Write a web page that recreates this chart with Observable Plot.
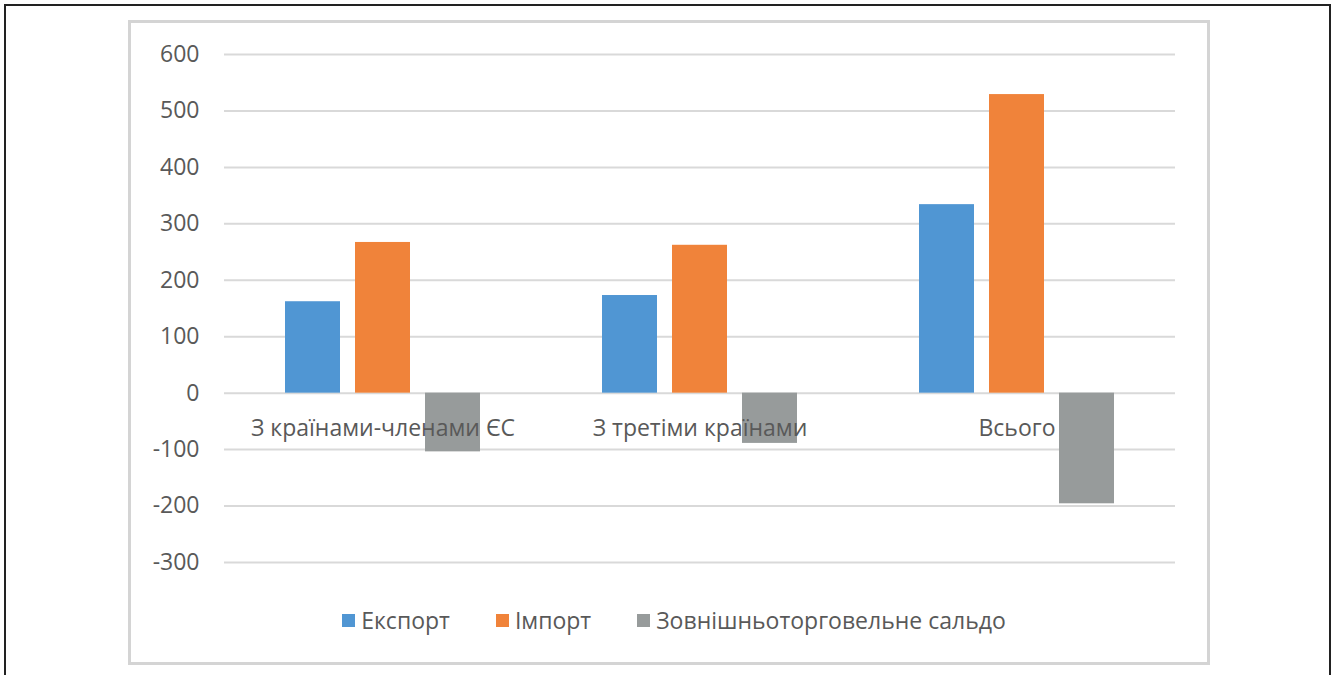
<!DOCTYPE html>
<html><head><meta charset="utf-8">
<script src="https://cdn.jsdelivr.net/npm/d3@7"></script>
<script src="https://cdn.jsdelivr.net/npm/@observablehq/plot@0.6"></script>
<style>
body{margin:0;background:#fff;font-family:"Open Sans",sans-serif;}
#outer{position:absolute;left:4px;top:4px;width:1323px;height:720px;border:2px solid #222;}
#box{position:absolute;left:128px;top:20px;width:1076px;height:639px;border:3px solid #d4d4d4;}
#chart{position:absolute;left:131px;top:23px;}
#legend{position:absolute;left:131px;width:1076px;top:604px;display:flex;justify-content:center;gap:46px;font-size:23px;color:#595959;padding-left:10px;box-sizing:border-box;}
#legend .it{display:flex;align-items:center;gap:6px;}
#legend .sw{width:13px;height:13px;display:inline-block;}
</style></head>
<body>
<div id="outer"></div>
<div id="box"></div>
<div id="chart"></div>
<div id="legend"></div>
<script>
const categories = ["З країнами-членами ЄС", "З третіми країнами", "Всього"];
const series = ["Експорт", "Імпорт", "Зовнішньоторговельне сальдо"];
const colors = ["#5096d3", "#f0833a", "#979b9b"];
const exportValues = [162, 173, 334];
const importValues = [267, 262, 529];
const balanceValues = [-104, -89, -196];
const yTicks = [-300, -200, -100, 0, 100, 200, 300, 400, 500, 600];

const seriesValues = [exportValues, importValues, balanceValues];
const data = [];
categories.forEach((c, i) => series.forEach((s, j) => data.push({category: c, series: s, value: seriesValues[j][i]})));

const chart = Plot.plot({
  width: 1076,
  height: 569,
  marginLeft: 92,
  marginRight: 31,
  marginTop: 31,
  marginBottom: 30,
  style: {fontFamily: "'Open Sans', sans-serif", fontSize: "23px", color: "#595959", background: "transparent", overflow: "visible"},
  fx: {domain: categories, padding: 0, axis: null},
  x: {domain: series, paddingInner: 0.22, paddingOuter: 0.86, axis: null},
  y: {domain: [-300, 600], ticks: yTicks, tickSize: 0, tickPadding: 25, tickFormat: d => String(d), label: null},
  color: {domain: series, range: colors},
  marks: [
    Plot.gridY(yTicks, {stroke: "#d9d9d9", strokeOpacity: 1, strokeWidth: 2}),
    Plot.barY(data, {fx: "category", x: "series", y: "value", fill: "series"}),
    Plot.text(categories, {fx: d => d, y: () => 0, text: d => d, dy: 35, fill: "#595959", fontSize: 23})
  ]
});
document.getElementById("chart").appendChild(chart);

const legend = document.getElementById("legend");
series.forEach((s, i) => {
  const it = document.createElement("div"); it.className = "it";
  const sw = document.createElement("span"); sw.className = "sw"; sw.style.background = colors[i];
  const t = document.createElement("span"); t.textContent = s;
  it.appendChild(sw); it.appendChild(t); legend.appendChild(it);
});
</script>
</body></html>
